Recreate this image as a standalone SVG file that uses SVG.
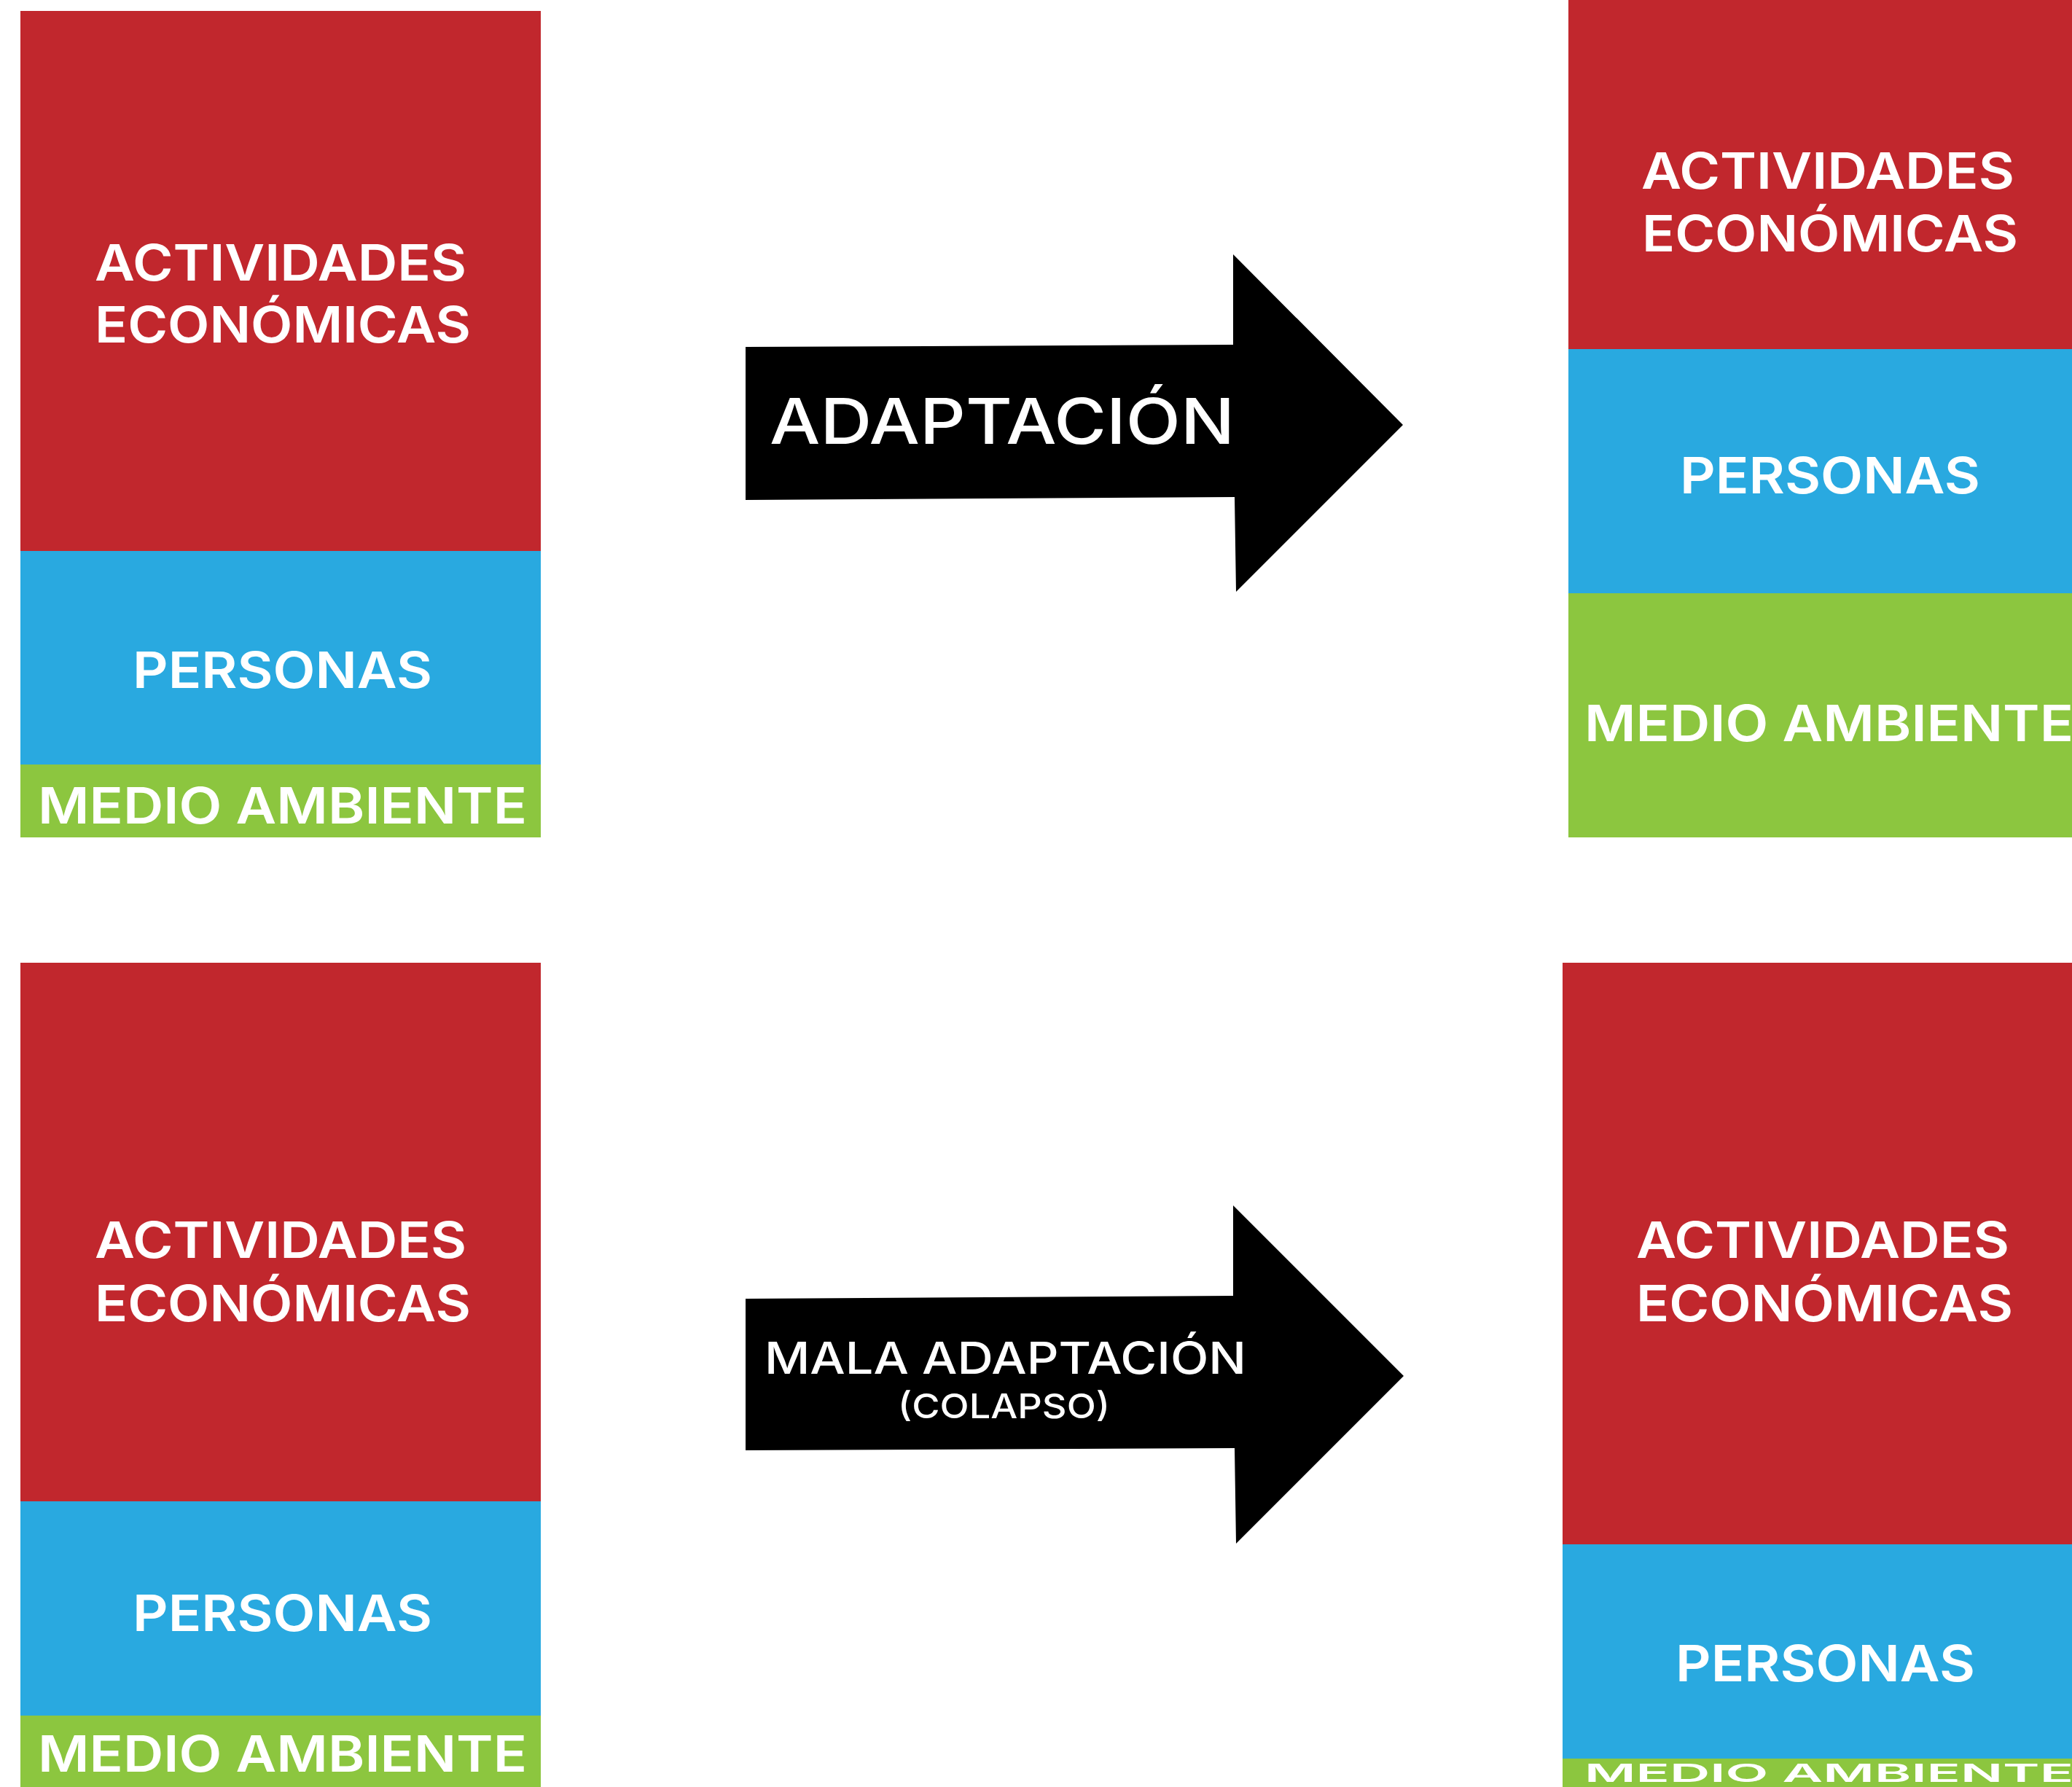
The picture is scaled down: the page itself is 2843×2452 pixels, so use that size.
<svg xmlns="http://www.w3.org/2000/svg" width="2843" height="2452" viewBox="0 0 2843 2452">
<style>
.red{fill:#C1272D}.blue{fill:#29A9E0}.green{fill:#8CC63F}
.lbl{fill:#FFFFFF;font-family:"Inter","DejaVu Sans",sans-serif;font-weight:600;font-size:69px}
.arr{fill:#000000}
.al{fill:#FFFFFF;font-family:"Inter","DejaVu Sans",sans-serif;font-weight:500}
</style>
<rect width="2843" height="2452" fill="#FFFFFF"/>
<g id="stack-top-left">
<rect class="red" x="28" y="15" width="714" height="741"/>
<rect class="blue" x="28" y="756" width="714" height="293"/>
<rect class="green" x="28" y="1049" width="714" height="100"/>
<text class="lbl" x="130" y="385" textLength="510" lengthAdjust="spacingAndGlyphs">ACTIVIDADES</text>
<text class="lbl" x="130" y="470" textLength="516" lengthAdjust="spacingAndGlyphs">ECONÓMICAS</text>
<text class="lbl" x="182" y="944" textLength="411" lengthAdjust="spacingAndGlyphs">PERSONAS</text>
<text class="lbl" x="52" y="1130" textLength="671" lengthAdjust="spacingAndGlyphs">MEDIO AMBIENTE</text>
</g>
<g id="stack-top-right">
<rect class="red" x="2152" y="0" width="714" height="479"/>
<rect class="blue" x="2152" y="479" width="714" height="335"/>
<rect class="green" x="2152" y="814" width="714" height="335"/>
<text class="lbl" x="2252" y="259" textLength="512" lengthAdjust="spacingAndGlyphs">ACTIVIDADES</text>
<text class="lbl" x="2253" y="345" textLength="516" lengthAdjust="spacingAndGlyphs">ECONÓMICAS</text>
<text class="lbl" x="2305" y="677" textLength="412" lengthAdjust="spacingAndGlyphs">PERSONAS</text>
<text class="lbl" x="2174" y="1017" textLength="671" lengthAdjust="spacingAndGlyphs">MEDIO AMBIENTE</text>
</g>
<g id="stack-bottom-left">
<rect class="red" x="28" y="1321" width="714" height="739"/>
<rect class="blue" x="28" y="2060" width="714" height="294"/>
<rect class="green" x="28" y="2354" width="714" height="98"/>
<text class="lbl" x="130" y="1726" textLength="510" lengthAdjust="spacingAndGlyphs">ACTIVIDADES</text>
<text class="lbl" x="130" y="1813" textLength="516" lengthAdjust="spacingAndGlyphs">ECONÓMICAS</text>
<text class="lbl" x="182" y="2238" textLength="411" lengthAdjust="spacingAndGlyphs">PERSONAS</text>
<text class="lbl" x="52" y="2431" textLength="671" lengthAdjust="spacingAndGlyphs">MEDIO AMBIENTE</text>
</g>
<g id="stack-bottom-right">
<rect class="red" x="2144" y="1321" width="714" height="798"/>
<rect class="blue" x="2144" y="2119" width="714" height="294"/>
<rect class="green" x="2144" y="2413" width="714" height="39"/>
<text class="lbl" x="2245" y="1726" textLength="512" lengthAdjust="spacingAndGlyphs">ACTIVIDADES</text>
<text class="lbl" x="2245" y="1813" textLength="517" lengthAdjust="spacingAndGlyphs">ECONÓMICAS</text>
<text class="lbl" x="2299" y="2307" textLength="411" lengthAdjust="spacingAndGlyphs">PERSONAS</text>
<text class="lbl" transform="translate(2174,2445) scale(1,0.5)" x="0" y="0" textLength="671" lengthAdjust="spacingAndGlyphs">MEDIO AMBIENTE</text>
</g>
<g id="connectors">
<g id="arrow-adaptacion">
<polygon class="arr" points="1023,476 1692,473 1692,349 1925,583 1696,812 1694,682 1023,686"/>
<text class="al" x="1056" y="609" font-size="86" textLength="638" lengthAdjust="spacingAndGlyphs">ADAPTACIÓN</text>
</g>
<g id="arrow-mala-adaptacion">
<polygon class="arr" points="1023,1782 1692,1778 1692,1654 1926,1888 1696,2118 1694,1987 1023,1990"/>
<text class="al" x="1049" y="1885" font-size="61" textLength="661" lengthAdjust="spacingAndGlyphs">MALA ADAPTACIÓN</text>
<text class="al" x="1232" y="1946" font-size="47" textLength="291" lengthAdjust="spacingAndGlyphs">(COLAPSO)</text>
</g>
</g>
</svg>
